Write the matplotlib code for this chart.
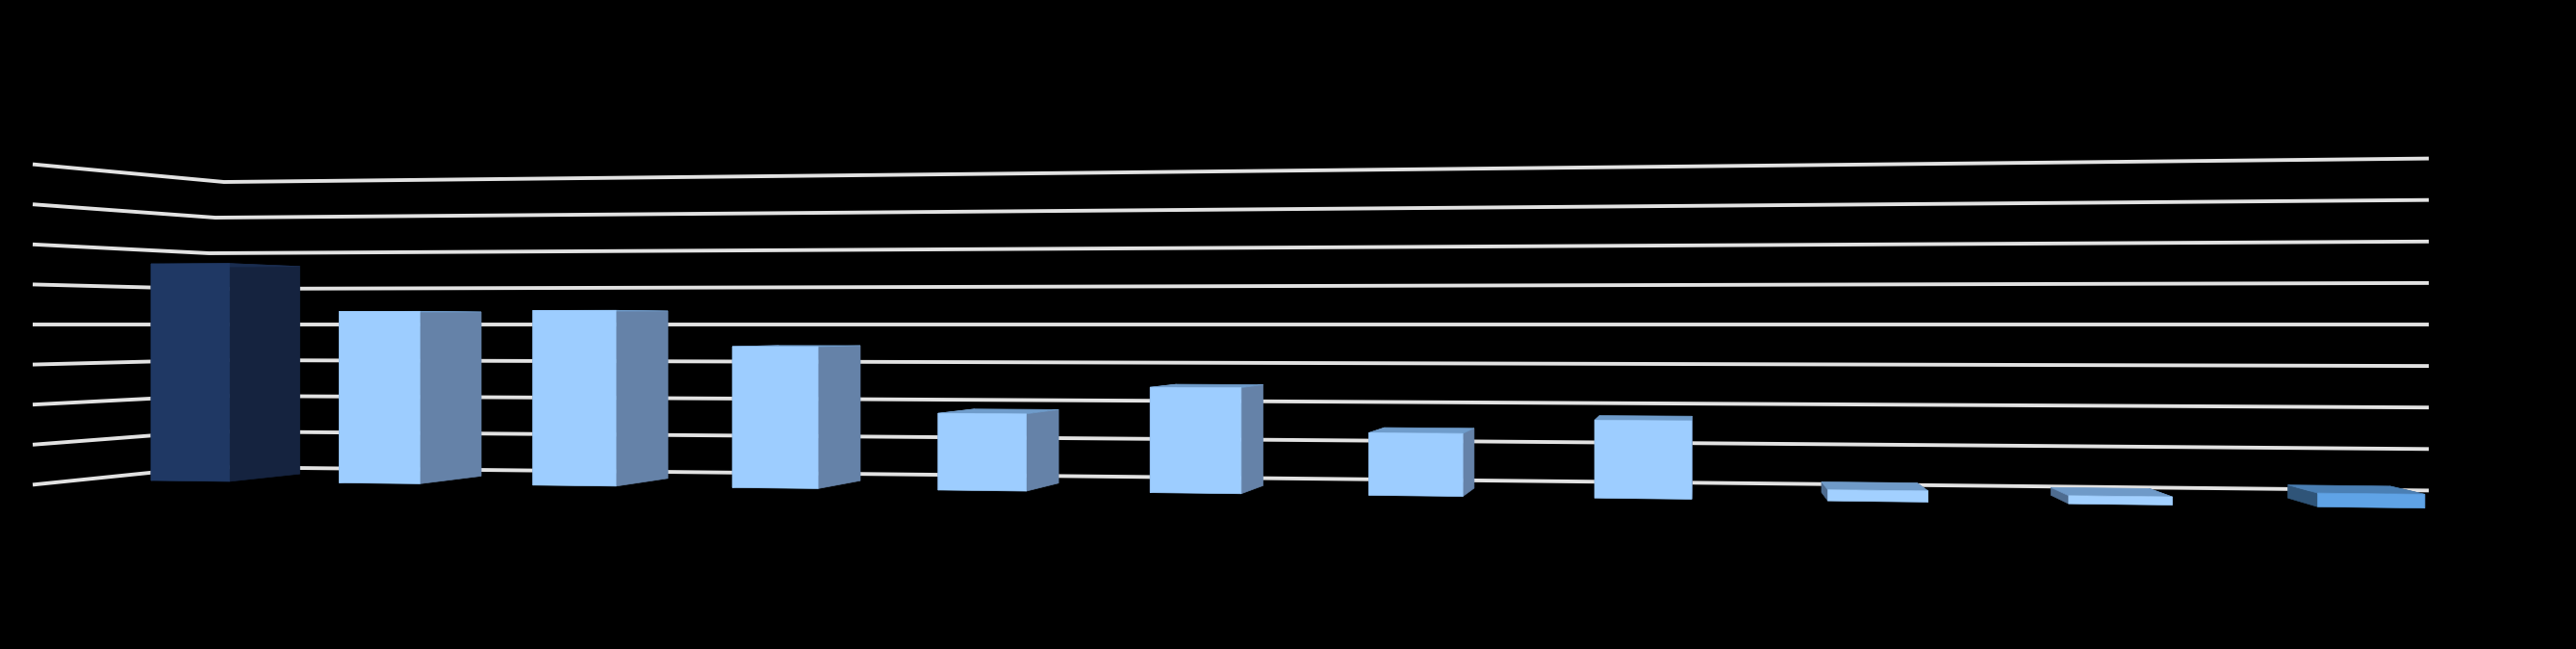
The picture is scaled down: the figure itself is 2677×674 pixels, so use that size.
import numpy as np
import matplotlib
matplotlib.use("Agg")
import matplotlib.pyplot as plt

# bar heights, in the units of the grid (one grid step = 10)
categories = list(range(11))
values = [55.4, 43.2, 43.4, 34.5, 18.5, 25.0, 14.6, 17.9, 2.5, 1.8, 3.0]
grid_ticks = [0, 10, 20, 30, 40, 50, 60, 70, 80]

# colours: front, side, top
navy = ("#1F3864", "#15233F", "#1A2D50")
light = ("#9DCDFF", "#6582A8", "#6F9CCB")
pale = ("#A2D0FF", "#4E6C90", "#6F9AC8")
blue = ("#5FA3E6", "#2F5478", "#4A7FB4")
bar_colors = [navy] + [light] * 7 + [pale] * 2 + [blue]

# -------------------------
# perspective of the 3D chart
# -------------------------
HORIZON = 337
VANISH_X = 1764
DEPTH = 0.952
BAR_WIDTH = 0.42
PX_PER_UNIT = 4.06
FLOOR = 162.0
PERSP = 0.01443


def scale(t):
    return 1 / (1 - PERSP * t)


def front_x(t):
    return (157 + 190.4 * t) * scale(t)


def front_y(t, v):
    return HORIZON + (FLOOR - v * PX_PER_UNIT) * scale(t)


def to_back(x, y):
    return VANISH_X + DEPTH * (x - VANISH_X), HORIZON + DEPTH * (y - HORIZON)


def corners(t, v):
    return (front_x(t), front_y(t, v)), (front_x(t + BAR_WIDTH), front_y(t + BAR_WIDTH, v))


fig = plt.figure(figsize=(26.77, 6.74), dpi=100, facecolor="black")
ax = fig.add_axes([0, 0, 1, 1])
ax.set_facecolor("black")
ax.set_xlim(0, 2677)
ax.set_ylim(674, 0)
ax.axis("off")

# -------------------------
# grid lines on the two walls
# -------------------------
for tick in grid_ticks:
    k = tick / 10 - 4
    corner = 212 + 1.3 * k ** 2 if k > 0 else 214
    xs = [34, corner, 2524]
    ys = [HORIZON - k * 41.6, HORIZON - k * 37.0, HORIZON - k * 43.1]
    ax.plot(xs, ys, color="#E2E2E2", lw=2.8, solid_capstyle="butt", zorder=1)

# -------------------------
# bars
# -------------------------
for i, v in zip(categories, values):
    front, side, top = bar_colors[i]
    (xl, yt_l), (xr, yt_r) = corners(i, v)
    (xl, yb_l), (xr, yb_r) = corners(i, 0)
    bxl, byt_l = to_back(xl, yt_l)
    bxr, byt_r = to_back(xr, yt_r)
    _, byb_l = to_back(xl, yb_l)
    _, byb_r = to_back(xr, yb_r)

    # thin edge in the same colour closes the seams between the faces
    ax.fill([xl, bxl, bxl, xl], [yt_l, byt_l, byb_l, yb_l], fc=side, ec=side, lw=0.5, zorder=2)
    ax.fill([xr, bxr, bxr, xr], [yt_r, byt_r, byb_r, yb_r], fc=side, ec=side, lw=0.5, zorder=2)
    ax.fill([xl, bxl, bxr, xr], [yt_l, byt_l, byt_r, yt_r], fc=top, ec=top, lw=0.5, zorder=3)
    ax.fill([xl, xr, xr, xl], [yt_l, yt_r, yb_r, yb_l], fc=front, ec=front, lw=0.5, zorder=4)

fig.savefig("out.png", dpi=100, facecolor="black")
plt.close()
